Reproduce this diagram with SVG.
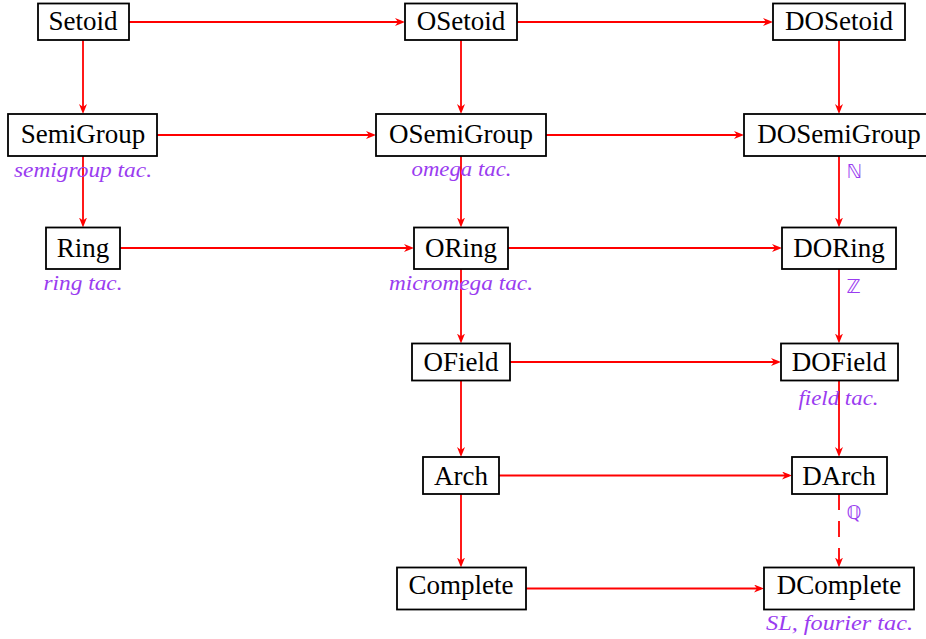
<svg xmlns="http://www.w3.org/2000/svg" width="926" height="639" viewBox="0 0 926 639">
  <defs>
    <style>
      .box { fill: #ffffff; stroke: #000000; stroke-width: 1.8; }
      .name { font-family: "Liberation Serif", "Times New Roman", serif; font-size: 27px; fill: #000000; text-anchor: middle; }
      .tac { font-family: "Liberation Serif", "Times New Roman", serif; font-style: italic; font-size: 20px; fill: #9a3cf0; text-anchor: middle; }
      .set { font-family: "DejaVu Sans", sans-serif; font-size: 19px; fill: #9a3cf0; }
      .edge { fill: none; stroke: #ff0000; stroke-width: 1.8; marker-end: url(#head); }
      .dashed { stroke-dasharray: 16 11; }
    </style>
    <marker id="head" markerUnits="userSpaceOnUse" viewBox="0 0 10 8" markerWidth="10" markerHeight="8" refX="7" refY="4" orient="auto">
      <path d="M10,4 L0,0 L3,4 L0,8 Z" fill="#ff0000"/>
    </marker>
  </defs>

  <!-- connectors -->
  <g id="edges">
    <!-- row 1 -->
    <line class="edge" x1="129" y1="22" x2="402" y2="22"/>
    <line class="edge" x1="517" y1="22" x2="770" y2="22"/>
    <!-- row 1 to row 2 -->
    <line class="edge" x1="83" y1="40" x2="83" y2="111"/>
    <line class="edge" x1="461" y1="40" x2="461" y2="111"/>
    <line class="edge" x1="839" y1="40" x2="839" y2="111"/>
    <!-- row 2 -->
    <line class="edge" x1="157" y1="135" x2="373" y2="135"/>
    <line class="edge" x1="546" y1="135" x2="741" y2="135"/>
    <!-- row 2 to row 3 -->
    <line class="edge" x1="83" y1="156" x2="83" y2="224.5"/>
    <line class="edge" x1="461" y1="156" x2="461" y2="224.5"/>
    <line class="edge" x1="839" y1="156" x2="839" y2="224.5"/>
    <!-- row 3 -->
    <line class="edge" x1="120" y1="248" x2="411" y2="248"/>
    <line class="edge" x1="508" y1="248" x2="779" y2="248"/>
    <!-- row 3 to row 4 -->
    <line class="edge" x1="461" y1="269" x2="461" y2="340.5"/>
    <line class="edge" x1="839" y1="269" x2="839" y2="340.5"/>
    <!-- row 4 -->
    <line class="edge" x1="510" y1="362" x2="778" y2="362"/>
    <!-- row 4 to row 5 -->
    <line class="edge" x1="461" y1="380.5" x2="461" y2="454"/>
    <line class="edge" x1="839" y1="380.5" x2="839" y2="454"/>
    <!-- row 5 -->
    <line class="edge" x1="499" y1="475.5" x2="789" y2="475.5"/>
    <!-- row 5 to row 6 -->
    <line class="edge" x1="461" y1="494" x2="461" y2="564.5"/>
    <line class="edge dashed" x1="839" y1="494" x2="839" y2="564.5"/>
    <!-- row 6 -->
    <line class="edge" x1="526" y1="588.5" x2="761" y2="588.5"/>
    <!-- edge labels -->
    <text class="set" x="846.5" y="178">ℕ</text>
    <text class="set" x="846.5" y="292.5">ℤ</text>
    <text class="set" x="846.5" y="519">ℚ</text>
  </g>

  <!-- row 1 -->
  <g id="setoid">
    <rect class="box" x="38" y="3.5" width="91" height="36.5"/>
    <text class="name" x="83" y="30">Setoid</text>
  </g>
  <g id="osetoid">
    <rect class="box" x="405" y="3.5" width="112" height="36.5"/>
    <text class="name" x="461" y="30">OSetoid</text>
  </g>
  <g id="dosetoid">
    <rect class="box" x="773" y="3.5" width="132" height="36.5"/>
    <text class="name" x="839" y="30">DOSetoid</text>
  </g>

  <!-- row 2 -->
  <g id="semigroup">
    <rect class="box" x="8" y="114" width="149" height="42"/>
    <text class="name" x="83" y="142.5">SemiGroup</text>
    <text class="tac" x="83" y="177" textLength="138" lengthAdjust="spacingAndGlyphs">semigroup tac.</text>
  </g>
  <g id="osemigroup">
    <rect class="box" x="376" y="114" width="170" height="42"/>
    <text class="name" x="461" y="142.5">OSemiGroup</text>
    <text class="tac" x="461.5" y="176" textLength="100" lengthAdjust="spacingAndGlyphs">omega tac.</text>
  </g>
  <g id="dosemigroup">
    <rect class="box" x="744" y="114" width="190" height="42"/>
    <text class="name" x="839" y="142.5">DOSemiGroup</text>
  </g>

  <!-- row 3 -->
  <g id="ring">
    <rect class="box" x="46" y="227.5" width="74" height="41.5"/>
    <text class="name" x="83" y="256.5">Ring</text>
    <text class="tac" x="83" y="290" textLength="79" lengthAdjust="spacingAndGlyphs">ring tac.</text>
  </g>
  <g id="oring">
    <rect class="box" x="414" y="227.5" width="94" height="41.5"/>
    <text class="name" x="461" y="256.5">ORing</text>
    <text class="tac" x="461" y="290" textLength="144" lengthAdjust="spacingAndGlyphs">micromega tac.</text>
  </g>
  <g id="doring">
    <rect class="box" x="782" y="227.5" width="114" height="41.5"/>
    <text class="name" x="839" y="256.5">DORing</text>
  </g>

  <!-- row 4 -->
  <g id="ofield">
    <rect class="box" x="412" y="343.5" width="98" height="37"/>
    <text class="name" x="461" y="370.5">OField</text>
  </g>
  <g id="dofield">
    <rect class="box" x="781" y="343.5" width="117" height="37"/>
    <text class="name" x="839" y="370.5">DOField</text>
    <text class="tac" x="838.5" y="405" textLength="80" lengthAdjust="spacingAndGlyphs">field tac.</text>
  </g>

  <!-- row 5 -->
  <g id="arch">
    <rect class="box" x="423" y="457" width="76" height="37"/>
    <text class="name" x="461" y="484.5">Arch</text>
  </g>
  <g id="darch">
    <rect class="box" x="792" y="457" width="95" height="37"/>
    <text class="name" x="839" y="484.5">DArch</text>
  </g>

  <!-- row 6 -->
  <g id="complete">
    <rect class="box" x="397" y="567.5" width="129" height="42"/>
    <text class="name" x="461" y="594">Complete</text>
  </g>
  <g id="dcomplete">
    <rect class="box" x="764" y="567.5" width="150" height="42"/>
    <text class="name" x="839" y="594">DComplete</text>
    <text class="tac" x="839.5" y="630" textLength="147" lengthAdjust="spacingAndGlyphs">SL, fourier tac.</text>
  </g>
</svg>
